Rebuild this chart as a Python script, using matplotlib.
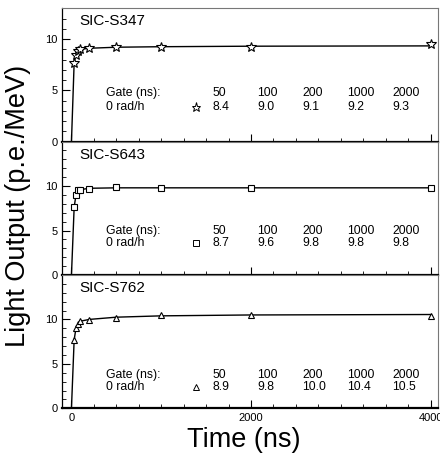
import matplotlib.pyplot as plt
from matplotlib.ticker import MultipleLocator, FixedLocator

plt.rcParams['font.family'] = ['Liberation Sans', 'DejaVu Sans']

# sample names and markers
samples = ["SIC-S347", "SIC-S643", "SIC-S762"]
markers = ["*", "s", "^"]

# measured light output vs time (ns)
time_pts = [30, 50, 70, 100, 200, 500, 1000, 2000, 4000]
lo_s347 = [7.7, 8.4, 8.8, 9.0, 9.1, 9.2, 9.2, 9.25, 9.5]
lo_s643 = [7.6, 9.0, 9.5, 9.6, 9.7, 9.9, 9.8, 9.8, 9.8]
lo_s762 = [7.7, 9.0, 9.5, 9.8, 9.9, 10.2, 10.5, 10.5, 10.4]

# fit curves
fit_t = [0, 30, 50, 100, 200, 500, 1000, 2000, 4000]
fit_s347 = [0, 7.7, 8.5, 9.0, 9.1, 9.2, 9.25, 9.3, 9.33]
fit_s643 = [0, 7.6, 9.0, 9.6, 9.75, 9.8, 9.8, 9.8, 9.8]
fit_s762 = [0, 7.7, 9.0, 9.8, 10.0, 10.25, 10.4, 10.5, 10.55]

# table of gates
gates = ["50", "100", "200", "1000", "2000"]
tab_s347 = ["8.4", "9.0", "9.1", "9.2", "9.3"]
tab_s643 = ["8.7", "9.6", "9.8", "9.8", "9.8"]
tab_s762 = ["8.9", "9.8", "10.0", "10.4", "10.5"]

ylims = [13, 15, 15]
row_y = [(4.75, 3.38), (4.95, 3.57), (3.75, 2.36)]

fig = plt.figure(figsize=(4.4, 4.58), dpi=100)
gs = fig.add_gridspec(3, 1, left=0.142, right=0.995, top=0.982, bottom=0.1085, hspace=0)
axes = [fig.add_subplot(gs[i]) for i in range(3)]

data = [(lo_s347, fit_s347, tab_s347), (lo_s643, fit_s643, tab_s643), (lo_s762, fit_s762, tab_s762)]

for i, ax in enumerate(axes):
    lo, fit, tab = data[i]
    ax.plot(fit_t, fit, color="black", lw=1.0)
    ms = 7.5 if markers[i] == "*" else 5
    ax.plot(time_pts, lo, linestyle="none", marker=markers[i], ms=ms,
            mfc="white", mec="black", mew=0.8)
    ax.set_xlim(-100, 4080)
    ax.set_ylim(0, ylims[i])
    ax.xaxis.set_major_locator(MultipleLocator(2000))
    ax.xaxis.set_minor_locator(MultipleLocator(250))
    ax.yaxis.set_major_locator(FixedLocator([0, 5, 10]))
    ax.yaxis.set_minor_locator(MultipleLocator(1))
    ax.tick_params(which="both", direction="in", top=False, right=False, labelsize=8)
    ax.tick_params(which="major", length=6, width=0.8)
    ax.tick_params(which="minor", length=3, width=0.6)
    ax.spines["bottom"].set_linewidth(1.6)
    ax.spines["left"].set_linewidth(0.9)
    for s in ["top", "right"]:
        ax.spines[s].set_color("#777777")
        ax.spines[s].set_linewidth(0.8)
    if i < 2:
        ax.tick_params(axis="x", labelbottom=False)

    ax.text(0.045, 0.955, samples[i], transform=ax.transAxes, fontsize=11, va="top", ha="left")
    y1, y2 = row_y[i]
    ax.text(390, y1, "Gate (ns):", fontsize=8.8, va="center")
    ax.text(390, y2, "0 rad/h", fontsize=8.8, va="center")
    ax.plot([1390], [y2], linestyle="none", marker=markers[i], ms=ms - 1,
            mfc="white", mec="black", mew=0.7)
    for j in range(len(gates)):
        xg = 1570 + 500 * j
        ax.text(xg, y1, gates[j], fontsize=8.8, va="center")
        ax.text(xg, y2, tab[j], fontsize=8.8, va="center")

fig.text(0.042, 0.55, "Light Output (p.e./MeV)", rotation=90, fontsize=19.5, va="center", ha="center")
fig.text(0.553, 0.04, "Time (ns)", fontsize=19.5, va="center", ha="center")

plt.savefig("out.png", dpi=100)
